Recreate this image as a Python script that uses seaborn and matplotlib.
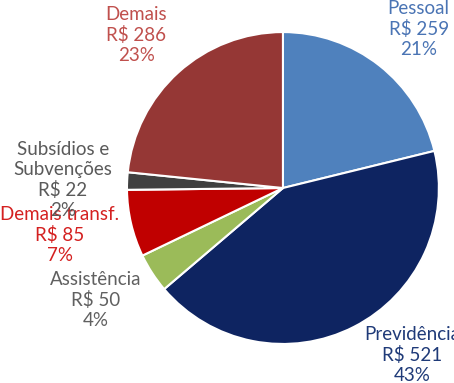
import matplotlib
matplotlib.use("Agg")
import matplotlib.pyplot as plt
import seaborn as sns

# dados (R$ bilhões)
categorias = ["Pessoal", "Previdência", "Assistência", "Demais transf.",
              "Subsídios e\nSubvenções", "Demais"]
valores    = [259, 521, 50, 85, 22, 286]
percentuais = ["21%", "43%", "4%", "7%", "2%", "23%"]

cores_fatias = ["#4F81BD", "#0E2461", "#9BBB59", "#C00000", "#404040", "#953735"]
cores_texto  = ["#4A74B4", "#1F3A78", "#606060", "#D42020", "#5A5A5A", "#C0504D"]

# posicao dos rotulos (coordenadas do eixo, raio da pizza = 1)
pos_rotulos = [(0.87, 1.02), (0.83, -1.07), (-1.20, -0.72),
               (-1.43, -0.30), (-1.41, 0.05), (-0.94, 0.98)]

sns.set_theme(style="white")
plt.rcParams["font.family"] = ["Lato", "DejaVu Sans"]

fig = plt.figure(figsize=(4.54, 3.83), dpi=100)
ax = fig.add_axes([0.2797, 0.1018, 0.687, 0.8146])

ax.pie(valores, colors=cores_fatias, startangle=90, counterclock=False,
       wedgeprops=dict(edgecolor="white", linewidth=1.5))
ax.set_xlim(-1, 1)
ax.set_ylim(-1, 1)
ax.set_aspect("equal")
ax.axis("off")

for cat, v, p, cor, (x, y) in zip(categorias, valores, percentuais, cores_texto, pos_rotulos):
    ax.text(x, y, f"{cat}\nR$ {v}\n{p}", ha="center", va="center",
            color=cor, fontsize=13.5, linespacing=1.2, clip_on=False)

fig.savefig("out.png", dpi=100)
plt.close()
